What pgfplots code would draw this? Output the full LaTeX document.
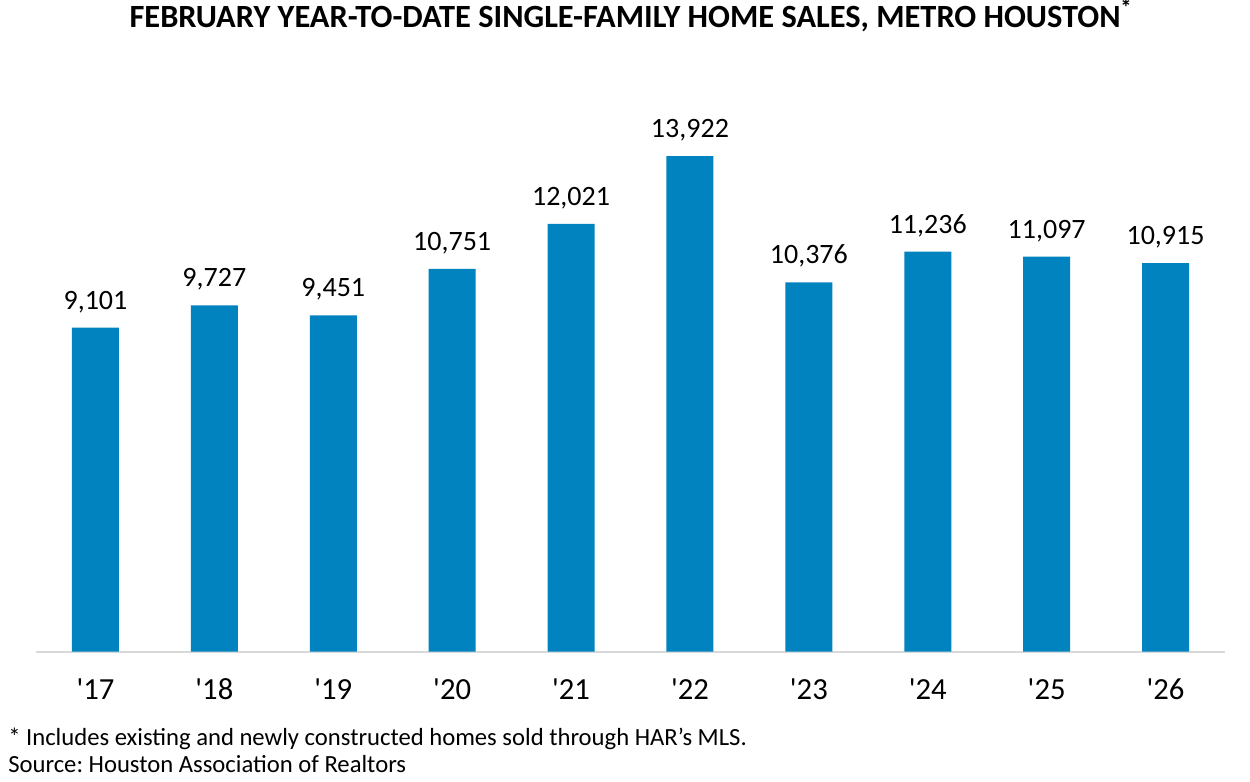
\documentclass[border=0pt]{standalone}
\usepackage{fontspec}
\setmainfont{Carlito}
\newfontfamily\plainfont{Carlito}
\usepackage{pgfplots}
\pgfplotsset{compat=1.18}
\definecolor{barblue}{HTML}{0083BF}
\definecolor{axisgray}{HTML}{D9D9D9}
\frenchspacing

\begin{document}
\begin{tikzpicture}[x=0.75pt,y=0.75pt]
  % page frame, 1250 x 782 px
  \path[use as bounding box] (0,0) rectangle (1250,782);

  \node[anchor=base, font=\fontsize{24.3}{28}\selectfont\bfseries] at (631,782-28)
    {FEBRUARY YEAR-TO-DATE SINGLE-FAMILY HOME SALES, METRO HOUSTON\textsuperscript{*}};

  \begin{axis}[
      at={(27pt,97.7pt)}, anchor=south west,
      scale only axis,
      width=891.75pt, height=427.2pt,
      xmin=-0.5, xmax=9.5,
      ymin=0, ymax=16000,
      axis x line*=bottom,
      axis y line=none,
      x axis line style={axisgray, line width=1.2pt},
      xtick=data,
      xticklabels={'17,'18,'19,'20,'21,'22,'23,'24,'25,'26},
      major tick length=0pt,
      xticklabel style={font=\plainfont\fontsize{23}{27}\selectfont, yshift=-16.5pt},
      ybar, bar width=35.25pt, bar shift=0pt,
      nodes near coords,
      every node near coord/.append style={font=\fontsize{21}{24}\selectfont, inner sep=0pt, anchor=south, yshift=11pt, black},
      /pgf/number format/.cd, 1000 sep={,}, assume math mode=true,
    ]
    \addplot[fill=barblue, draw=none] coordinates {
      (0,9101) (1,9727) (2,9451) (3,10751) (4,12021)
      (5,13922) (6,10376) (7,11236) (8,11097) (9,10915)
    };
  \end{axis}

  \node[anchor=base west, font=\fontsize{18.5}{22}\selectfont, inner sep=0pt] at (8,782-746)
    {* Includes existing and newly constructed homes sold through HAR’s MLS.};
  \node[anchor=base west, font=\fontsize{18.5}{22}\selectfont, inner sep=0pt] at (8,782-773)
    {Source: Houston Association of Realtors};
\end{tikzpicture}
\end{document}
